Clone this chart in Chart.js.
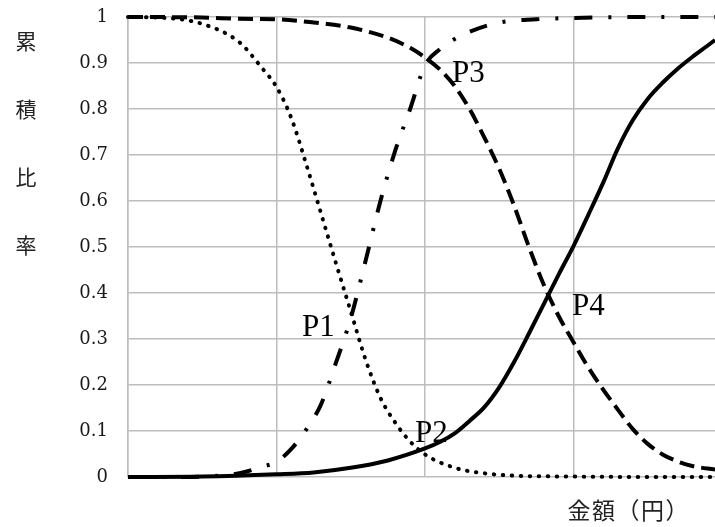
<!DOCTYPE html>
<html>
<head>
<meta charset="utf-8">
<script src="https://cdn.jsdelivr.net/npm/chart.js@4.4.1/dist/chart.umd.min.js"></script>
<style>
html,body{margin:0;padding:0;background:#fff;}
#wrap{position:relative;width:715px;height:527px;}
canvas{display:block;}
</style>
</head>
<body>
<div id="wrap"><canvas id="c" width="715" height="527"></canvas></div>
<script>
// ---- data ----
const yTicks = [0, 0.1, 0.2, 0.3, 0.4, 0.5, 0.6, 0.7, 0.8, 0.9, 1];
const yTitleChars = ["累", "積", "比", "率"];
const xTitleChars = ["金", "額", "（", "円", "）"];

const xDotted = [0, 0.25, 0.5, 0.75, 0.9, 1.0, 1.1, 1.2, 1.3, 1.4, 1.5, 1.6, 1.7, 1.8, 1.9, 2.0, 2.2, 2.4, 2.6, 3.0, 3.5, 3.953];
const yDotted = [1.0, 0.998, 0.985, 0.945, 0.89, 0.848, 0.78, 0.68, 0.573, 0.465, 0.36, 0.255, 0.172, 0.118, 0.077, 0.049, 0.02, 0.008, 0.003, 0.001, 0, 0];

const xDashDot = [0, 0.25, 0.5, 0.75, 0.9, 1.0, 1.1, 1.2, 1.3, 1.4, 1.5, 1.6, 1.7, 1.8, 1.9, 2.0, 2.1, 2.2, 2.3, 2.5, 2.75, 3.0, 3.5, 3.953];
const yDashDot = [0, 0, 0.001, 0.008, 0.022, 0.033, 0.061, 0.103, 0.158, 0.248, 0.345, 0.47, 0.6, 0.71, 0.80, 0.895, 0.93, 0.952, 0.968, 0.988, 0.995, 0.998, 1.0, 1.0];

const xDashed = [0, 0.5, 0.75, 1.0, 1.25, 1.5, 1.75, 1.9, 2.0, 2.1, 2.2, 2.3, 2.4, 2.5, 2.6, 2.7, 2.8, 2.9, 3.0, 3.1, 3.2, 3.3, 3.4, 3.5, 3.6, 3.7, 3.8, 3.953];
const yDashed = [1.0, 0.999, 0.996, 0.995, 0.988, 0.977, 0.955, 0.933, 0.912, 0.886, 0.85, 0.80, 0.738, 0.67, 0.59, 0.5, 0.418, 0.35, 0.293, 0.238, 0.19, 0.146, 0.104, 0.072, 0.049, 0.034, 0.024, 0.016];

const xSolid = [0, 0.5, 1.0, 1.25, 1.5, 1.75, 2.0, 2.1, 2.2, 2.3, 2.4, 2.5, 2.6, 2.7, 2.8, 2.9, 3.0, 3.1, 3.2, 3.3, 3.4, 3.5, 3.6, 3.7, 3.8, 3.9, 3.953];
const ySolid = [0, 0.001, 0.006, 0.01, 0.02, 0.036, 0.062, 0.076, 0.095, 0.122, 0.152, 0.195, 0.25, 0.312, 0.376, 0.44, 0.502, 0.57, 0.64, 0.715, 0.776, 0.822, 0.857, 0.887, 0.913, 0.937, 0.95];

const pointLabels = ["P1", "P2", "P3", "P4"];
const pointLabelX = [1.172, 1.933, 2.182, 2.99];
const pointLabelY = [0.324, 0.093, 0.876, 0.37];

// ---- build ----
const pts = (xs, ys) => xs.map((x, i) => ({x: x, y: ys[i]}));

const labelPlugin = {
  id: 'labels',
  afterDatasetsDraw(chart) {
    const ctx = chart.ctx;
    const xs = chart.scales.x, ys = chart.scales.y;
    ctx.save();
    ctx.fillStyle = '#000';
    ctx.font = '31px "Liberation Serif", serif';
    ctx.textAlign = 'left';
    ctx.textBaseline = 'middle';
    pointLabels.forEach((t, i) => {
      ctx.fillText(t, xs.getPixelForValue(pointLabelX[i]), ys.getPixelForValue(pointLabelY[i]));
    });
    // y title (stacked vertical)
    ctx.font = '21px "Noto Sans CJK JP", sans-serif';
    ctx.fillStyle = '#222';
    ctx.textAlign = 'center';
    const top = chart.chartArea.top;
    yTitleChars.forEach((ch, i) => {
      ctx.fillText(ch, 26, top + 24 + i * 68);
    });
    // x title, full-width cells
    ctx.font = '23px "Noto Sans CJK JP", sans-serif';
    ctx.textAlign = 'center';
    xTitleChars.forEach((ch, i) => {
      ctx.fillText(ch, 579 + i * 24.5, chart.chartArea.bottom + 33);
    });
    ctx.restore();
  }
};

const gridColor = '#bdbdbd';

new Chart(document.getElementById('c'), {
  type: 'line',
  data: {
    datasets: [
      { data: pts(xDotted, yDotted), borderColor: '#000', borderWidth: 4, borderDash: [0.5, 8.5], borderCapStyle: 'round', pointRadius: 0, cubicInterpolationMode: 'monotone', fill: false },
      { data: pts(xDashDot, yDashDot), borderColor: '#000', borderWidth: 4, borderDash: [18, 16, 3, 16], borderCapStyle: 'butt', pointRadius: 0, cubicInterpolationMode: 'monotone', fill: false },
      { data: pts(xDashed, yDashed), borderColor: '#000', borderWidth: 4, borderDash: [15, 7], borderCapStyle: 'butt', pointRadius: 0, cubicInterpolationMode: 'monotone', fill: false },
      { data: pts(xSolid, ySolid), borderColor: '#000', borderWidth: 4, pointRadius: 0, cubicInterpolationMode: 'monotone', fill: false }
    ]
  },
  options: {
    responsive: false,
    animation: false,
    clip: false,
    layout: { padding: { top: 17, right: 0, bottom: 50, left: 0 } },
    plugins: { legend: { display: false }, tooltip: { enabled: false } },
    scales: {
      x: {
        type: 'linear', min: 0, max: 3.953,
        ticks: { display: false, stepSize: 1 },
        grid: {
          drawTicks: false,
          lineWidth: 1.5,
          color: (c) => (c.tick && Number.isInteger(c.tick.value)) ? gridColor : 'rgba(0,0,0,0)'
        },
        border: { display: false },
        afterFit: (s) => { s.height = 0; s.paddingLeft = 0; s.paddingRight = 0; s.paddingTop = 0; s.paddingBottom = 0; }
      },
      y: {
        min: 0, max: 1,
        afterBuildTicks: (s) => { s.ticks = yTicks.map(v => ({value: v})); },
        ticks: {
          padding: 20,
          color: '#1a1a1a',
          font: { family: '"DejaVu Serif", serif', size: 18 },
          callback: (v) => String(v)
        },
        grid: { drawTicks: false, lineWidth: 1.5, color: gridColor },
        border: { display: true, color: gridColor, width: 1.5 },
        afterFit: (s) => { s.width = 128; s.paddingTop = 0; s.paddingBottom = 0; s.paddingLeft = 0; s.paddingRight = 0; }
      }
    }
  },
  plugins: [labelPlugin]
});
</script>
</body>
</html>
